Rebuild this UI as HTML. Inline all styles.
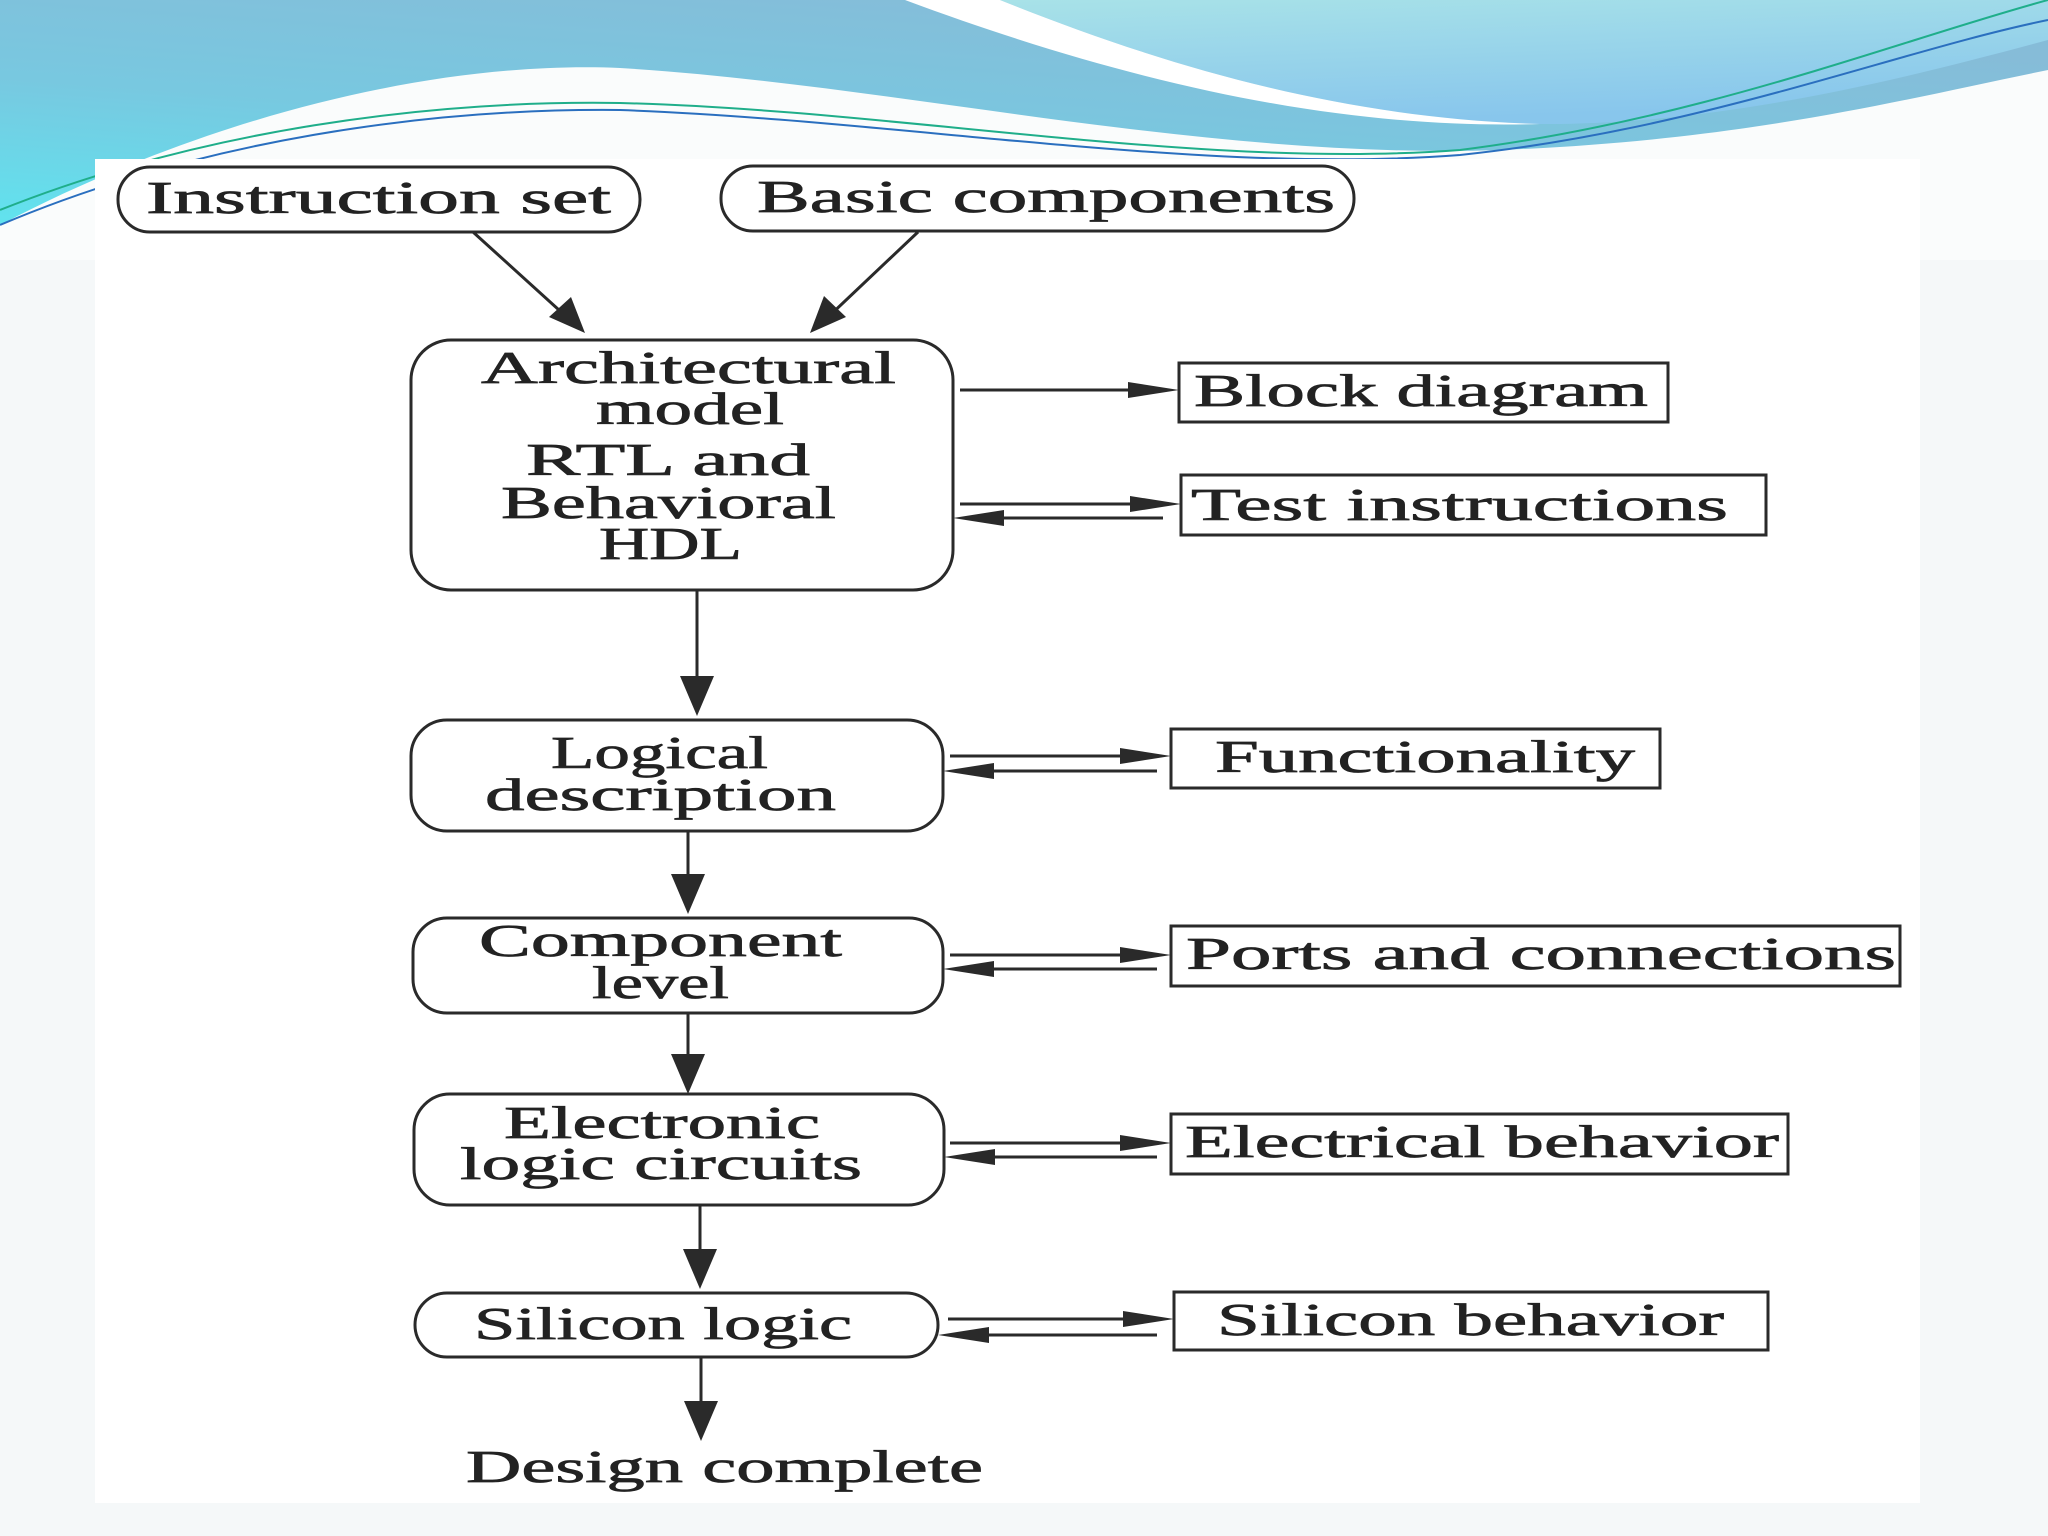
<!DOCTYPE html>
<html><head><meta charset="utf-8"><style>
html,body{margin:0;padding:0;background:#f5f8f9}
svg{display:block}
text{font-family:"Liberation Serif",serif;fill:#222;stroke:#222;stroke-width:0.7}
</style></head><body>
<svg width="2048" height="1536" viewBox="0 0 2048 1536" xmlns="http://www.w3.org/2000/svg">
<defs>
<linearGradient id="bg" x1="0" y1="1" x2="0.6" y2="0">
<stop offset="0" stop-color="#5ee6f0"/><stop offset="0.5" stop-color="#78c8e0"/><stop offset="1" stop-color="#86bcd8"/>
</linearGradient>
<linearGradient id="rc" x1="0" y1="0" x2="0.3" y2="1">
<stop offset="0" stop-color="#a8e2e8"/><stop offset="1" stop-color="#88c6ec"/>
</linearGradient>
</defs>
<rect x="0" y="0" width="2048" height="1536" fill="#f5f8f9"/>
<rect x="0" y="0" width="2048" height="240" fill="url(#bg)"/>
<path d="M1000,0 L2048,0 L2048,40 C1900,80 1720,125 1540,124 C1330,118 1150,60 1000,0 Z" fill="url(#rc)"/>
<path d="M905,0 L1000,0 C1150,60 1330,118 1540,124 C1400,128 1200,110 905,0 Z" fill="#ffffff"/>
<path d="M0,225 C200,120 430,60 620,68 C900,85 1200,160 1501,150 C1750,140 1900,100 2048,70 L2048,260 L0,260 Z" fill="#fafcfc"/>
<path d="M0,210 C200,130 430,100 620,103 C900,110 1200,170 1460,150 C1700,120 1900,40 2048,0" fill="none" stroke="#1fae8a" stroke-width="2"/>
<path d="M0,225 C200,140 430,108 620,110 C900,120 1200,175 1460,155 C1700,130 1900,50 2048,20" fill="none" stroke="#2a6fbf" stroke-width="2"/>
<rect x="95" y="159" width="1825" height="1344" fill="#ffffff"/>

<g fill="none" stroke="#2a2a2a" stroke-width="3">
<rect x="118" y="167" width="522" height="65" rx="32"/>
<rect x="721" y="166" width="633" height="65" rx="32"/>
<rect x="411" y="340" width="542" height="250" rx="40"/>
<rect x="1179" y="363" width="489" height="59"/>
<rect x="1181" y="475" width="585" height="60"/>
<rect x="411" y="720" width="532" height="111" rx="36"/>
<rect x="1171" y="729" width="489" height="59"/>
<rect x="413" y="918" width="530" height="95" rx="34"/>
<rect x="1171" y="926" width="729" height="60"/>
<rect x="414" y="1094" width="530" height="111" rx="36"/>
<rect x="1171" y="1114" width="617" height="60"/>
<rect x="415" y="1293" width="523" height="64" rx="32"/>
<rect x="1174" y="1292" width="594" height="58"/>
<path d="M473,232 L570,320 M918,232 L825,320 M697,590 L697,690 M688,831 L688,890 M688,1013 L688,1070 M700,1205 L700,1262 M701,1357 L701,1414"/>
<path d="M960,390 L1140,390 M960,504 L1140,504 M1163,518 L990,518 M950,756 L1135,756 M1157,771 L980,771 M950,955 L1135,955 M1157,969 L980,969 M950,1143 L1135,1143 M1157,1157 L980,1157 M948,1319 L1135,1319 M1157,1335 L975,1335"/>
</g>
<g fill="#2a2a2a">
<polygon points="585,333 549,317 571,297"/>
<polygon points="810,333 824,296 846,317"/>
<polygon points="697,716 680,676 714,676"/>
<polygon points="688,914 671,874 705,874"/>
<polygon points="688,1094 671,1054 705,1054"/>
<polygon points="700,1289 683,1249 717,1249"/>
<polygon points="701,1441 684,1401 718,1401"/>
<polygon points="1179,390 1128,382 1128,398"/>
<polygon points="1181,504 1130,496 1130,512"/>
<polygon points="953,518 1004,510 1004,526"/>
<polygon points="1171,756 1120,748 1120,764"/>
<polygon points="943,771 994,763 994,779"/>
<polygon points="1171,955 1120,947 1120,963"/>
<polygon points="943,969 994,961 994,977"/>
<polygon points="1171,1143 1120,1135 1120,1151"/>
<polygon points="944,1157 995,1149 995,1165"/>
<polygon points="1174,1319 1123,1311 1123,1327"/>
<polygon points="938,1335 989,1327 989,1343"/>
</g>
<g font-size="46">
<text x="146" y="213" textLength="465" lengthAdjust="spacingAndGlyphs">Instruction set</text>
<text x="757" y="212" textLength="578" lengthAdjust="spacingAndGlyphs">Basic components</text>
<text x="481" y="383" textLength="415" lengthAdjust="spacingAndGlyphs">Architectural</text>
<text x="596" y="424" textLength="188" lengthAdjust="spacingAndGlyphs">model</text>
<text x="526" y="475" textLength="284" lengthAdjust="spacingAndGlyphs">RTL  and</text>
<text x="501" y="518" textLength="335" lengthAdjust="spacingAndGlyphs">Behavioral</text>
<text x="599" y="559" textLength="143" lengthAdjust="spacingAndGlyphs">HDL</text>
<text x="1194" y="406" textLength="454" lengthAdjust="spacingAndGlyphs">Block diagram</text>
<text x="1191" y="520" textLength="537" lengthAdjust="spacingAndGlyphs">Test instructions</text>
<text x="551" y="768" textLength="217" lengthAdjust="spacingAndGlyphs">Logical</text>
<text x="485" y="810" textLength="351" lengthAdjust="spacingAndGlyphs">description</text>
<text x="1215" y="772" textLength="420" lengthAdjust="spacingAndGlyphs">Functionality</text>
<text x="479" y="956" textLength="363" lengthAdjust="spacingAndGlyphs">Component</text>
<text x="592" y="998" textLength="137" lengthAdjust="spacingAndGlyphs">level</text>
<text x="1186" y="969" textLength="710" lengthAdjust="spacingAndGlyphs">Ports and connections</text>
<text x="504" y="1138" textLength="316" lengthAdjust="spacingAndGlyphs">Electronic</text>
<text x="460" y="1179" textLength="402" lengthAdjust="spacingAndGlyphs">logic circuits</text>
<text x="1185" y="1157" textLength="594" lengthAdjust="spacingAndGlyphs">Electrical behavior</text>
<text x="474" y="1339" textLength="378" lengthAdjust="spacingAndGlyphs">Silicon logic</text>
<text x="1217" y="1335" textLength="507" lengthAdjust="spacingAndGlyphs">Silicon behavior</text>
<text x="466" y="1482" textLength="517" lengthAdjust="spacingAndGlyphs">Design complete</text>
</g>
</svg>
</body></html>
